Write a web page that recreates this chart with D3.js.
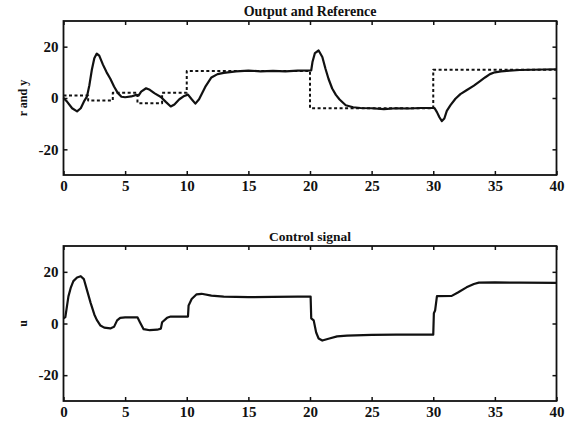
<!DOCTYPE html>
<html><head><meta charset="utf-8">
<script src="https://cdn.jsdelivr.net/npm/d3@7"></script>
<style>
html,body{margin:0;padding:0;background:#fff;}
svg{display:block;}
text{font-family:"Liberation Serif","Times New Roman",serif;fill:#111;}
</style></head>
<body>
<script>
// ---- data ----
const xTicks = [0,5,10,15,20,25,30,35,40];
const yTicks = [-20,0,20];
const refTimes  = [0,2,4,6,8,10,20,30,40];
const refValues = [1,-1,2,-2,2,10.5,-4,11,11];
const yTimes = [0,0.3,0.7,1.1,1.4,1.7,1.9,2.1,2.3,2.5,2.7,2.9,3.2,3.5,3.8,4.1,4.4,4.7,5.0,5.5,5.9,6.1,6.3,6.7,7.0,7.4,7.9,8.3,8.7,9.0,9.4,9.8,10.1,10.4,10.7,11.0,11.5,12.0,12.5,13.0,14,15,16,17,18,19,20.1,20.2,20.4,20.7,21.0,21.25,21.5,21.8,22.1,22.4,22.9,23.5,24.1,25,26,27,28,29,30.1,30.3,30.5,30.7,30.9,31.1,31.4,31.8,32.2,32.7,33.3,33.8,34.2,34.6,35.0,35.5,36.2,37,38,39,40];
const yValues = [0,-1.5,-4,-5.2,-4,-1,0.5,5,11,15.5,17.3,16.5,13,10,7.5,4.5,2,0.5,0.3,0.6,1.2,1.0,2.5,3.8,3.2,1.8,0.4,-1.5,-3.3,-2.5,-0.5,0.8,1.3,-0.5,-2.2,-0.5,4.3,8.0,9.3,9.8,10.4,10.7,10.4,10.6,10.4,10.7,10.8,14,17.5,18.5,16,11.5,7.5,3.7,1.2,-0.6,-2.8,-3.6,-3.9,-4,-4.3,-4.0,-4.1,-3.9,-3.9,-5.5,-7.5,-9,-8,-5,-2.8,-0.3,1.5,3,4.8,6.6,8.0,9.3,10.0,10.4,10.7,10.9,11,11.1,11.2];
const uTimes = [0,0.15,0.4,0.6,0.8,1.1,1.4,1.65,1.9,2.2,2.5,2.7,3.0,3.3,3.8,4.1,4.35,4.6,5.0,6.0,6.2,6.5,7.0,7.6,7.9,8.0,8.4,8.7,10.1,10.15,10.4,10.8,11.2,12,13,15,17,19,20.05,20.1,20.3,20.5,20.7,21.0,21.5,22.2,23,25,27,30.0,30.05,30.15,30.3,31.5,32.0,32.7,33.3,33.7,35,37,40];
const uValues = [2,2.5,10.5,14,16.4,17.8,18.3,17.2,13,8,3.5,1.4,-0.8,-1.6,-1.9,-1.3,1.2,2.2,2.4,2.4,0.5,-2.2,-2.6,-2.4,-2,0.5,2.2,2.7,2.7,7,9.5,11.3,11.5,10.8,10.4,10.2,10.3,10.4,10.4,2,1.2,-3.5,-5.8,-6.6,-5.9,-5.0,-4.7,-4.4,-4.3,-4.3,4,5,10.6,10.7,12,14,15.3,15.8,15.9,15.8,15.7];

const W = 570, H = 422;
const svg = d3.select("body").append("svg").attr("width", W).attr("height", H);

function panel(top, bottom, title, titleSize, ylabel, series) {
  const x = d3.scaleLinear().domain([0,40]).range([63.5,556.5]);
  const y = d3.scaleLinear().domain([-30,30]).range([bottom, top]);
  const g = svg.append("g");
  g.append("rect").attr("x", x(0)).attr("y", top).attr("width", x(40)-x(0)).attr("height", bottom-top)
    .attr("fill","none").attr("stroke","#111").attr("stroke-width",1.8);
  const fmt = d => String(d);
  const ax = g.append("g").attr("transform", `translate(0,${bottom})`)
    .call(d3.axisBottom(x).tickValues(xTicks).tickSize(-4).tickPadding(5).tickFormat(fmt));
  const axTop = g.append("g").attr("transform", `translate(0,${top})`)
    .call(d3.axisTop(x).tickValues(xTicks).tickSize(-4).tickFormat(""));
  const ay = g.append("g").attr("transform", `translate(${x(0)},0)`)
    .call(d3.axisLeft(y).tickValues(yTicks).tickSize(-4).tickPadding(5).tickFormat(fmt));
  const ayR = g.append("g").attr("transform", `translate(${x(40)},0)`)
    .call(d3.axisRight(y).tickValues(yTicks).tickSize(-4).tickFormat(""));
  [ax,axTop,ay,ayR].forEach(a=>{
    a.select(".domain").remove();
    a.selectAll(".tick line").attr("stroke","#111").attr("stroke-width",1.5);
    a.selectAll("text").attr("font-size",15).attr("font-weight","bold")
      .attr("font-family","Liberation Serif").attr("fill","#111");
  });
  g.append("text").attr("x", 310).attr("y", top-5).attr("text-anchor","middle")
    .attr("font-size",titleSize).attr("font-weight","bold").text(title);
  g.append("text").attr("transform", `translate(27,${(top+bottom)/2}) rotate(-90)`)
    .attr("text-anchor","middle").attr("font-size",12).attr("font-weight","bold").text(ylabel);
  series.forEach(s=>{
    const line = d3.line().x((d,i)=>x(s.t[i])).y((d,i)=>y(s.v[i])).curve(s.curve || d3.curveLinear);
    g.append("path").datum(s.v).attr("d", line).attr("fill","none").attr("stroke","#111")
      .attr("stroke-width", s.w).attr("stroke-dasharray", s.dash || null).attr("stroke-linejoin","round");
  });
}

panel(21, 175, "Output and Reference", 14, "r and y", [
  {t: refTimes, v: refValues, curve: d3.curveStepAfter, w: 2, dash: "3,2.5"},
  {t: yTimes, v: yValues, w: 2.2}
]);
panel(246, 401, "Control signal", 13.5, "u", [
  {t: uTimes, v: uValues, w: 2.2}
]);
</script>
</body></html>
